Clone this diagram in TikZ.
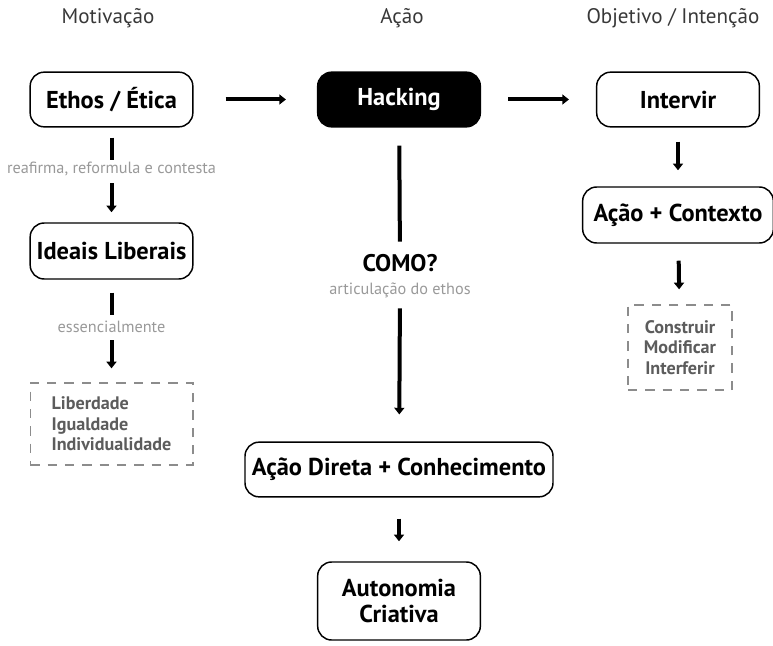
\documentclass[tikz,border=0pt]{standalone}
\usepackage{fontspec}
\setmainfont{PT Sans}
\usepackage{tikz}
\usetikzlibrary{calc}
\usetikzlibrary{arrows.meta}

\definecolor{headgray}{rgb}{0.22,0.22,0.22}
\definecolor{notegray}{rgb}{0.6,0.6,0.6}
\definecolor{boxgray}{rgb}{0.36,0.36,0.36}
\definecolor{dashgray}{rgb}{0.55,0.55,0.55}

\tikzset{
  box/.style={draw, rounded corners=10.5pt, line width=1.1pt, minimum width=122pt, minimum height=41pt, align=center, font=\bfseries\fontsize{18.3}{19.5}\selectfont},
  hackbox/.style={box, fill=black, text=white},
  dashbox/.style={draw=dashgray, dash pattern=on 7pt off 6pt, line width=1pt, text=boxgray, font=\bfseries\fontsize{13.6}{15.4}\selectfont},
  heading/.style={text=headgray, font=\fontsize{15.8}{18}\selectfont},
  note/.style={text=notegray, inner sep=0pt, text height=9pt, text depth=2.5pt, font=\fontsize{12.2}{14}\selectfont},
  ask/.style={inner sep=0pt, text height=13pt, text depth=0pt, font=\bfseries\fontsize{18}{20}\selectfont},
  bar/.style={line width=3pt},
  link/.style={line width=3pt, -{Triangle[width=7.5pt,length=5pt]}},
}

\begin{document}
\begin{tikzpicture}[x=0.75pt,y=0.75pt,yscale=-1,xscale=1]
\useasboundingbox (0,0) rectangle (773,645);

% Headings
\node[heading] (motiv) at (108,18) {Motivação};
\node[heading] (acao) at (402,18) {Ação};
\node[heading] (objet) at (673,18) {Objetivo / Intenção};

% Left column
\node[box] (ethos) at (111.5,99.5) {Ethos / Ética};
\node[note] (reaf) at (111.5,169) {reafirma, reformula e contesta};
\node[box, minimum height=42pt] (ideais) at (111.5,251) {Ideais Liberais};
\node[note] (essen) at (111.5,328) {essencialmente};
\node[dashbox, minimum width=122pt, minimum height=61.5pt, align=left] (valores) at (111.5,424) {Liberdade\\Igualdade\\Individualidade};

% Middle column
\node[hackbox] (hacking) at (399,99.5) {Hacking};
\node[ask] (como) at (400,263) {COMO?};
\node[note] (artic) at (400,290) {articulação do ethos};
\node[box, minimum width=231pt] (direta) at (399,469.5) {Ação Direta + Conhecimento};
\node[box, minimum height=58.5pt] (autonomia) at (399,601) {Autonomia\\Criativa};

% Right column
\node[box] (intervir) at (678,99.5) {Intervir};
\node[box, minimum width=143pt, minimum height=42pt] (contexto) at (678,215) {Ação + Contexto};
\node[dashbox, minimum width=78pt, minimum height=63.75pt, align=center] (verbos) at (680,347.5) {Construir\\Modificar\\Interferir};

% Horizontal arrows
\draw[link, shorten <=24pt, shorten >=23.25pt] (ethos) -- (hacking);
\draw[link, shorten <=20.25pt, shorten >=20.25pt] (hacking) -- (intervir);

% Left arrows
\draw[bar, shorten <=7.5pt, shorten >=1.1pt] (ethos) -- (reaf);
\draw[link, shorten <=4.9pt, shorten >=7.5pt] (reaf) -- (ideais);
\draw[bar, shorten <=9.75pt, shorten >=4.1pt] (ideais) -- (essen);
\draw[link, shorten <=3.4pt, shorten >=10.5pt] (essen) -- (valores);

% Middle arrows
\draw[bar, shorten <=13.5pt, shorten >=9.4pt] (hacking) -- (como);
\draw[link, shorten <=7.9pt, shorten >=20.25pt] (artic) -- (direta);
\draw[link, shorten <=15.75pt, shorten >=15pt] (direta) -- (autonomia);

% Right arrows
\draw[link, shorten <=10.5pt, shorten >=12pt] (intervir) -- (contexto);
\draw[link, shorten <=12.75pt, shorten >=11.25pt] (contexto) -- (verbos);

\end{tikzpicture}
\end{document}
